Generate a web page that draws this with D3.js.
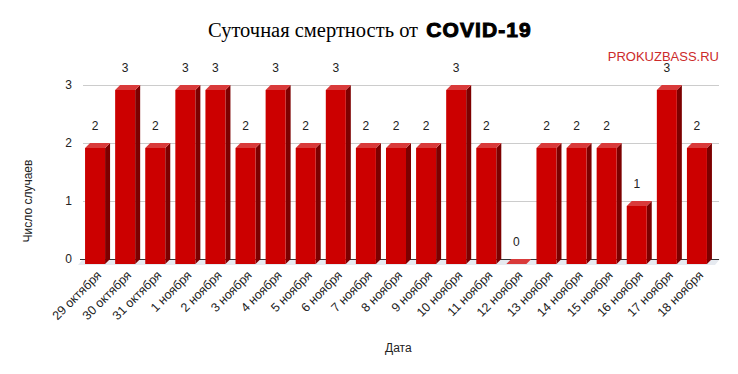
<!DOCTYPE html>
<html>
<head>
<meta charset="utf-8">
<script src="https://cdn.jsdelivr.net/npm/d3@7/dist/d3.min.js"></script>
<style>
  body { margin: 0; background: #fff; }
  svg { display: block; font-family: "Liberation Sans", Arial, sans-serif; }
</style>
</head>
<body>
<div id="chart"></div>
<script>
const categories = ['29 октября', '30 октября', '31 октября', '1 ноября', '2 ноября', '3 ноября', '4 ноября',
  '5 ноября', '6 ноября', '7 ноября', '8 ноября', '9 ноября', '10 ноября', '11 ноября', '12 ноября',
  '13 ноября', '14 ноября', '15 ноября', '16 ноября', '17 ноября', '18 ноября'];
const deaths = [2, 3, 2, 3, 3, 2, 3, 2, 3, 2, 2, 2, 3, 2, 0, 2, 2, 2, 1, 3, 2];
const yTicks = [0, 1, 2, 3];

const WIDTH = 738;
const HEIGHT = 374;
const DEPTH = 5;

const svg = d3.select('#chart').append('svg')
  .attr('width', WIDTH)
  .attr('height', HEIGHT);

const x = d3.scaleBand()
  .domain(categories)
  .range([80, 712])
  .paddingInner(0.335)
  .paddingOuter(0.168);

const y = d3.scaleLinear()
  .domain([0, 3])
  .range([259, 85]);

const barW = x.bandwidth();

// gridlines
svg.append('g').selectAll('line').data(yTicks.filter(t => t > 0)).enter().append('line')
  .attr('x1', 83).attr('x2', 719)
  .attr('y1', d => y(d) + 0.5).attr('y2', d => y(d) + 0.5)
  .attr('stroke', '#cccccc');

// floor shadow
svg.append('path')
  .attr('d', `M${x.range()[0] - 2},${y(0) + DEPTH + 1} L${x.range()[1] + 3},${y(0) + DEPTH + 1} L${x.range()[1] + 8},${y(0)} L${x.range()[0] + 3},${y(0)} Z`)
  .attr('fill', '#e6eaf0');

// baseline
svg.append('line')
  .attr('x1', 80).attr('x2', 719)
  .attr('y1', y(0) + 0.5).attr('y2', y(0) + 0.5)
  .attr('stroke', '#333');

// y tick labels
svg.append('g').selectAll('text').data(yTicks).enter().append('text')
  .attr('x', 72).attr('y', d => y(d))
  .attr('dy', '0.35em')
  .attr('text-anchor', 'end')
  .attr('font-size', 12)
  .attr('fill', '#222')
  .text(d => d);

// bars
const bars = svg.append('g').selectAll('g').data(deaths).enter().append('g');

bars.each(function(v, i) {
  const g = d3.select(this);
  const bx = x(categories[i]);
  const top = y(v);
  const base = y(0);
  if (v > 0) {
    g.append('path')
      .attr('d', `M${bx + barW},${top + DEPTH} L${bx + barW + DEPTH},${top} L${bx + barW + DEPTH},${base} L${bx + barW},${base + DEPTH} Z`)
      .attr('fill', '#7d0000');
    g.append('rect')
      .attr('x', bx).attr('y', top + DEPTH)
      .attr('width', barW).attr('height', base - top)
      .attr('fill', '#cc0000');
  }
  g.append('path')
    .attr('d', `M${bx},${top + DEPTH} L${bx + barW},${top + DEPTH} L${bx + barW + DEPTH},${top} L${bx + DEPTH},${top} Z`)
    .attr('fill', '#d93a3a');
});

// value labels
svg.append('g').selectAll('text').data(deaths).enter().append('text')
  .attr('x', (d, i) => x(categories[i]) + barW / 2)
  .attr('y', d => y(d) - 13)
  .attr('text-anchor', 'middle')
  .attr('font-size', 12)
  .attr('fill', '#222')
  .text(d => d);

// x tick labels
svg.append('g').selectAll('text').data(categories).enter().append('text')
  .attr('transform', d => `translate(${x(d) + barW / 2 + 7},${y(0) + 17}) rotate(-45)`)
  .attr('text-anchor', 'end')
  .attr('font-size', 12.5)
  .attr('fill', '#222')
  .text(d => d);

// title
const title = svg.append('text')
  .attr('x', 208).attr('y', 37)
  .attr('fill', '#000');
title.append('tspan')
  .attr('font-family', '"Liberation Serif", "Times New Roman", serif')
  .attr('font-size', 20.5)
  .text('Суточная смертность от ');
title.append('tspan')
  .attr('dx', 3)
  .attr('font-family', '"Liberation Sans", Arial, sans-serif')
  .attr('font-weight', 'bold')
  .attr('font-size', 21)
  .attr('letter-spacing', 1.1)
  .attr('stroke', '#000')
  .attr('stroke-width', 1)
  .text('COVID-19');

svg.append('text')
  .attr('x', 719).attr('y', 61)
  .attr('text-anchor', 'end')
  .attr('font-size', 13)
  .attr('fill', '#cc2a2a')
  .text('PROKUZBASS.RU');

// axis titles
svg.append('text')
  .attr('transform', `translate(32,201) rotate(-90)`)
  .attr('text-anchor', 'middle')
  .attr('font-size', 12)
  .attr('fill', '#222')
  .text('Число случаев');

svg.append('text')
  .attr('x', 385).attr('y', 352)
  .attr('font-size', 12)
  .attr('fill', '#222')
  .text('Дата');
</script>
</body>
</html>
